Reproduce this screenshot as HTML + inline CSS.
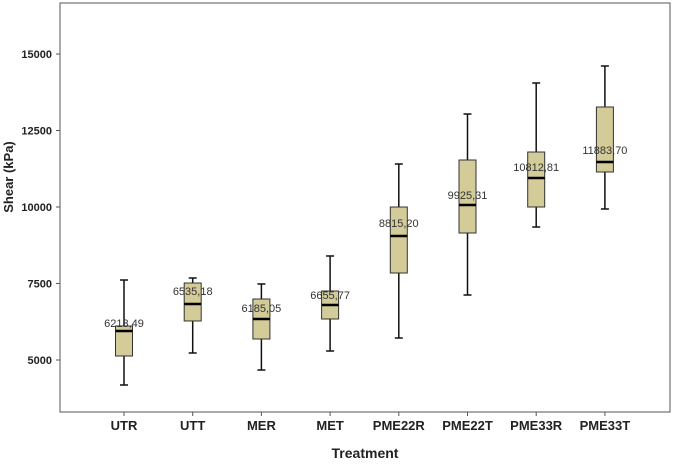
<!DOCTYPE html>
<html><head><meta charset="utf-8"><style>
html,body{margin:0;padding:0;background:#fff;}
svg{display:block;font-family:"Liberation Sans",sans-serif;}
</style></head><body>
<svg id="chart" width="682" height="467" viewBox="0 0 682 467">
<rect x="0" y="0" width="682" height="467" fill="#fff"/>
<rect x="60" y="3" width="610" height="409" fill="#fff" stroke="#555" stroke-width="1"/>
<g id="ticks"></g>
<g id="boxes"></g>
<text x="365" y="458" text-anchor="middle" font-size="14" font-weight="bold" fill="#222">Treatment</text>
<text transform="translate(13,177) rotate(-90)" text-anchor="middle" font-size="13" font-weight="bold" fill="#222">Shear (kPa)</text>
</svg>
<script>
const categories = ["UTR","UTT","MER","MET","PME22R","PME22T","PME33R","PME33T"];
const whiskerLow = [4183,5229,4673,5294,5719,7124,9346,9935];
const q1 = [5131,6275,5686,6340,7843,9150,10000,11144];
const median = [5948,6830,6340,6797,9052,10065,10948,11471];
const q3 = [6111,7516,6993,7255,10000,11536,11797,13268];
const whiskerHigh = [7614,7680,7484,8399,11405,13039,14052,14608];
const meanLabels = ["6213,49","6535,18","6185,05","6655,77","8815,20","9925,31","10812,81","11883,70"];
const meanLabelLevel = [6213,7250,6700,7130,9480,10400,11300,11870];
const yTicks = [5000,7500,10000,12500,15000];

const NS = "http://www.w3.org/2000/svg";
function y(v){ return 360 - (v-5000)*0.0306; }
function x(i){ return 124 + i*68.7; }
function mk(tag, attrs, parent, text){
  const e = document.createElementNS(NS, tag);
  for (const k in attrs) e.setAttribute(k, attrs[k]);
  if (text !== undefined) e.textContent = text;
  parent.appendChild(e); return e;
}
const tg = document.getElementById("ticks");
yTicks.forEach(t=>{
  const l = mk("line",{x1:56,x2:60,y1:y(t),y2:y(t),stroke:"#555"},tg);
  
  
  const tx = mk("text",{x:52,y:y(t)+4,"text-anchor":"end","font-size":"11","font-weight":"bold",fill:"#222"},tg,String(t));
  
  
});
const bg = document.getElementById("boxes");
categories.forEach((c,i)=>{
  const cx = x(i), hw = 8.5;
  const g = mk("g",{},bg);
  
  
  mk("line",{x1:cx,x2:cx,y1:y(whiskerHigh[i]),y2:y(whiskerLow[i]),stroke:"#111","stroke-width":1.5},g);
  mk("line",{x1:cx-4,x2:cx+4,y1:y(whiskerHigh[i]),y2:y(whiskerHigh[i]),stroke:"#111","stroke-width":1.5},g);
  mk("line",{x1:cx-4,x2:cx+4,y1:y(whiskerLow[i]),y2:y(whiskerLow[i]),stroke:"#111","stroke-width":1.5},g);
  mk("rect",{x:cx-hw,y:y(q3[i]),width:hw*2,height:y(q1[i])-y(q3[i]),fill:"#d3cb98",stroke:"#333","stroke-width":1},g);
  mk("line",{x1:cx-hw,x2:cx+hw,y1:y(median[i]),y2:y(median[i]),stroke:"#000","stroke-width":2.5},g);
  const ml = mk("text",{x:cx,y:y(meanLabelLevel[i])+4,"text-anchor":"middle","font-size":"11",fill:"#333"},g,meanLabels[i]);
  
  
  const tk = mk("line",{x1:cx,x2:cx,y1:412,y2:416,stroke:"#555"},tg);
  
  
  const cl = mk("text",{x:cx,y:430,"text-anchor":"middle","font-size":"13","font-weight":"bold",fill:"#222"},tg,c);
  
  
});
</script>
</body></html>
